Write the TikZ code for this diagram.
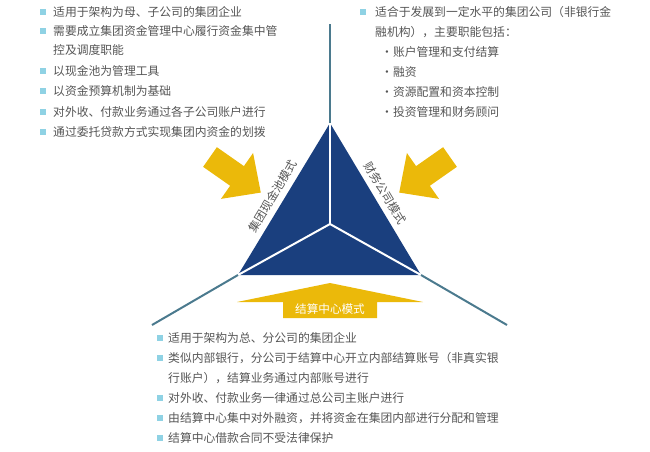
\documentclass[tikz,border=0pt]{standalone}
\usepackage{fontspec}
\newfontfamily\cjk{Noto Sans CJK SC}
\definecolor{navy}{HTML}{1A3F7E}
\definecolor{gold}{HTML}{EBB90A}
\definecolor{steel}{HTML}{4B7A8E}
\definecolor{txtgray}{HTML}{555555}
\definecolor{sqblue}{HTML}{8FD2E4}
\begin{document}
\begin{tikzpicture}[x=1pt,y=-1pt,
    txt/.style={anchor=west,inner sep=0pt,text=txtgray,font=\cjk\fontsize{11.8}{14}\selectfont},
    sq/.style={fill=sqblue,minimum size=5.5pt,inner sep=0pt},
    ray/.style={steel,line width=2pt},
    spoke/.style={white,line width=2pt},
    lbl/.style={inner sep=0pt,text=txtgray,font=\cjk\fontsize{11.6}{14}\selectfont}]
    \useasboundingbox (0,0) rectangle (650,451);
%
    % triangle
    \coordinate (apex) at (330,123);
    \coordinate (left) at (238,275);
    \coordinate (right) at (421,275);
    \coordinate (mid) at (330,224);
    \fill[navy] (apex) -- (left) -- (right) -- cycle;
    \draw[spoke] (mid) -- (apex);
    \draw[spoke] (mid) -- (left);
    \draw[spoke] (mid) -- (right);
%
    % rays
    \coordinate (topend) at (330,24);
    \coordinate (leftend) at (152,325);
    \coordinate (rightend) at (507,325);
    \draw[ray] (apex) -- (topend);
    \draw[ray] (left) -- (leftend);
    \draw[ray] (right) -- (rightend);
%
    % arrows
    \begin{scope}[shift={(210,157)},rotate=-35]
        \fill[gold] (0,-12) -- (33,-12) -- (33,-28) -- (62,0) -- (33,28) -- (33,12) -- (0,12) -- cycle;
    \end{scope}
    \begin{scope}[shift={(450,157)},rotate=-145]
        \fill[gold] (0,-12) -- (33,-12) -- (33,-28) -- (62,0) -- (33,28) -- (33,12) -- (0,12) -- cycle;
    \end{scope}
    \fill[gold] (283,318) -- (283,302) -- (237,302) -- (330,283) -- (423,302) -- (377,302) -- (377,318) -- cycle;
%
    % mode labels
    \node[lbl,rotate=59] (pool) at (273,196) {集团现金池模式};
    \node[lbl,rotate=-59] (fin) at (385,193) {财务公司模式};
    \node[lbl,text=white] (settle) at (330,309) {结算中心模式};
%
    % top left
    \node[sq] (a1) at (43,12) {};
    \node[txt] (ta1) at (53,12) {适用于架构为母、子公司的集团企业};
    \node[sq] (a2) at (43,31) {};
    \node[txt] (ta2) at (53,31) {需要成立集团资金管理中心履行资金集中管};
    \node[txt] (ta2b) at (53,50) {控及调度职能};
    \node[sq] (a3) at (43,71) {};
    \node[txt] (ta3) at (53,71) {以现金池为管理工具};
    \node[sq] (a4) at (43,91) {};
    \node[txt] (ta4) at (53,91) {以资金预算机制为基础};
    \node[sq] (a5) at (43,112) {};
    \node[txt] (ta5) at (53,112) {对外收、付款业务通过各子公司账户进行};
    \node[sq] (a6) at (43,132) {};
    \node[txt] (ta6) at (53,132) {通过委托贷款方式实现集团内资金的划拨};
%
    % top right
    \node[sq] (b1) at (363,12) {};
    \node[txt] (tb1) at (375,12) {适合于发展到一定水平的集团公司（非银行金};
    \node[txt] (tb1b) at (375,32) {融机构），主要职能包括：};
    \node[txt] (tb2) at (381,52) {·账户管理和支付结算};
    \node[txt] (tb3) at (381,72) {·融资};
    \node[txt] (tb4) at (381,92) {·资源配置和资本控制};
    \node[txt] (tb5) at (381,112) {·投资管理和财务顾问};
%
    % bottom
    \node[sq] (c1) at (160,338) {};
    \node[txt] (tc1) at (168,338) {适用于架构为总、分公司的集团企业};
    \node[sq] (c2) at (160,358) {};
    \node[txt] (tc2) at (168,358) {类似内部银行，分公司于结算中心开立内部结算账号（非真实银};
    \node[txt] (tc2b) at (168,378) {行账户），结算业务通过内部账号进行};
    \node[sq] (c3) at (160,398) {};
    \node[txt] (tc3) at (168,398) {对外收、付款业务一律通过总公司主账户进行};
    \node[sq] (c4) at (160,418) {};
    \node[txt] (tc4) at (168,418) {由结算中心集中对外融资，并将资金在集团内部进行分配和管理};
    \node[sq] (c5) at (160,438) {};
    \node[txt] (tc5) at (168,438) {结算中心借款合同不受法律保护};
\end{tikzpicture}
\end{document}
